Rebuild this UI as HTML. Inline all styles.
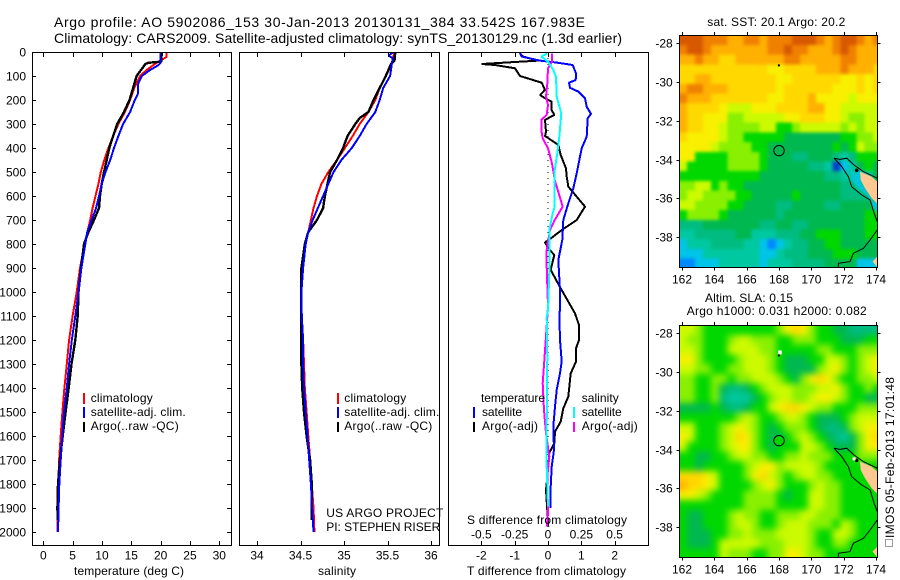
<!DOCTYPE html>
<html>
<head>
<meta charset="utf-8">
<style>
html,body{margin:0;padding:0;background:#fff;}
svg{display:block;}
text{font-family:"Liberation Sans",sans-serif;font-size:12px;fill:#000;}
.title{font-size:14px;}
</style>
</head>
<body>
<svg id="chart" width="900" height="580" viewBox="0 0 900 580" xmlns="http://www.w3.org/2000/svg">
<rect x="0" y="0" width="900" height="580" fill="#fff"/>
<defs>
<clipPath id="clip-t"><rect x="33" y="53" width="198" height="492"/></clipPath>
<clipPath id="clip-s"><rect x="240" y="53" width="199" height="492"/></clipPath>
<clipPath id="clip-d"><rect x="449" y="53" width="199" height="492"/></clipPath>
<clipPath id="clip-m1"><rect x="679.5" y="35" width="198" height="232.5"/></clipPath>
<clipPath id="clip-m2"><rect x="679.5" y="325" width="198" height="232.5"/></clipPath>
<filter id="soft-sst" filterUnits="userSpaceOnUse" x="640" y="0" width="260" height="300" color-interpolation-filters="sRGB"><feGaussianBlur stdDeviation="1.5"/></filter>
<filter id="soft-sla" filterUnits="userSpaceOnUse" x="640" y="290" width="260" height="290" color-interpolation-filters="sRGB"><feGaussianBlur stdDeviation="3.5"/></filter>
</defs>

<text class="title" x="54" y="27" textLength="531">Argo profile: AO 5902086_153 30-Jan-2013 20130131_384 33.542S 167.983E</text>
<text class="title" x="54" y="43" textLength="568">Climatology: CARS2009. Satellite-adjusted climatology: synTS_20130129.nc (1.3d earlier)</text>

<g id="map1cells" clip-path="url(#clip-m1)"></g>
<g id="map2cells" clip-path="url(#clip-m2)"></g>
<g id="series-t" clip-path="url(#clip-t)"></g>
<g id="series-s" clip-path="url(#clip-s)"></g>
<g id="series-d" clip-path="url(#clip-d)"></g>
<g id="axes"></g>

<rect x="32.5" y="52.5" width="199" height="493" fill="none" stroke="#000"/>
<rect x="239.5" y="52.5" width="200" height="493" fill="none" stroke="#000"/>
<rect x="448.5" y="52.5" width="200" height="493" fill="none" stroke="#000"/>
<rect x="679.5" y="35.5" width="198" height="232" fill="none" stroke="#000"/>
<rect x="679.5" y="325.5" width="198" height="232" fill="none" stroke="#000"/>

<text x="74" y="575" textLength="110">temperature (deg C)</text>
<text x="318" y="575" textLength="38">salinity</text>
<text x="467" y="575" textLength="159">T difference from climatology</text>
<text x="467" y="524" textLength="160">S difference from climatology</text>

<rect x="83" y="393" width="2" height="11" fill="#f00"/>
<rect x="83" y="407" width="2" height="11" fill="#00f"/>
<rect x="83" y="422" width="2" height="10" fill="#000"/>
<text x="90.7" y="402" textLength="62">climatology</text>
<text x="90.7" y="416" textLength="95">satellite-adj. clim.</text>
<text x="90.7" y="430" textLength="88">Argo(..raw -QC)</text>

<rect x="337" y="393" width="2" height="11" fill="#f00"/>
<rect x="337" y="407" width="2" height="11" fill="#00f"/>
<rect x="337" y="422" width="2" height="10" fill="#000"/>
<text x="344.3" y="402" textLength="62">climatology</text>
<text x="344.3" y="416" textLength="95">satellite-adj. clim.</text>
<text x="344.3" y="430" textLength="88">Argo(..raw -QC)</text>
<text x="326.3" y="517" textLength="117">US ARGO PROJECT</text>
<text x="326.3" y="531" textLength="114">PI: STEPHEN RISER</text>

<text x="481" y="402" textLength="64">temperature</text>
<text x="482" y="416" textLength="40">satellite</text>
<text x="482" y="430" textLength="56">Argo(-adj)</text>
<rect x="473" y="407" width="2" height="11" fill="#00f"/>
<rect x="473" y="422" width="2" height="10" fill="#000"/>
<text x="581.7" y="402" textLength="37">salinity</text>
<text x="581.7" y="416" textLength="40">satellite</text>
<text x="581.7" y="430" textLength="56">Argo(-adj)</text>
<rect x="573" y="407" width="2" height="11" fill="#0ff"/>
<rect x="573" y="422" width="2" height="10" fill="#f0f"/>

<text x="707.3" y="26" textLength="138">sat. SST: 20.1  Argo: 20.2</text>
<text x="705" y="302" textLength="88">Altim. SLA: 0.15</text>
<text x="686.7" y="315" textLength="180">Argo h1000: 0.031 h2000: 0.082</text>

<rect x="885.5" y="539.5" width="7" height="7" fill="none" stroke="#333" stroke-dasharray="1 1"/>
<text transform="translate(894,538) rotate(-90)" x="0" y="0" textLength="161">IMOS 05-Feb-2013 17:01:48</text>
</svg>

<script>
/* ---------- profile data (depth in m, values in data units) ---------- */
const depthTicks = [0,100,200,300,400,500,600,700,800,900,1000,1100,1200,1300,1400,1500,1600,1700,1800,1900,2000];
const tempTicks = [0,5,10,15,20,25,30];
const salTicks = [34,34.5,35,35.5,36];
const tDiffTicks = [-2,-1,0,1,2];
const sDiffTicks = [-0.5,-0.25,0,0.25,0.5];
const lonTicks = [162,164,166,168,170,172,174];
const latTicks = [-28,-30,-32,-34,-36,-38];

const tempClimDepths = [0,20,30,50,75,100,150,200,250,300,350,400,450,500,550,600,650,700,750,800,900,1000,1100,1200,1300,1400,1500,1600,1700,1800,1900,2000];
const tempClim = [21,21,20.4,19,17.6,16.5,15.5,14.8,13.9,12.8,11.9,11.1,10.4,9.8,9.4,8.9,8.4,8,7.5,7.05,6.26,5.7,5,4.4,4,3.6,3.25,2.96,2.7,2.56,2.45,2.4];
const tempSatDepths = [0,45,55,75,100,130,175,200,250,300,350,400,450,500,550,600,650,700,750,800,900,1000,1100,1200,1300,1400,1500,1600,1700,1800,1900,1950,2000];
const tempSat = [20,20,19.6,18.2,16.8,16.2,16.1,15.6,14.8,13.6,12.8,12.05,11.4,10.6,9.95,9.5,9,8.25,7.5,7.16,6.5,6,5.46,4.85,4.4,4,3.53,3.25,2.96,2.73,2.6,2.55,2.5];
const tempArgoDepths = [0,40,45,50,100,150,200,250,300,350,400,450,500,550,600,650,700,750,800,900,1000,1100,1200,1300,1400,1500,1600,1700,1800,1900,1950];
const tempArgo = [20.2,20.1,17.9,17.4,15.9,15.3,14.7,13.75,12.6,11.9,11.25,10.8,10.35,9.95,9.66,9.5,8.64,7.7,6.94,6.43,6,5.86,5.46,4.8,4.33,3.8,3.3,2.85,2.5,2.4,2.45];

const salClimDepths = [0,50,100,150,200,250,300,350,400,450,500,550,600,650,700,750,800,900,1000,1100,1200,1300,1400,1500,1600,1700,1800,1900,2000];
const salClim = [35.58,35.55,35.48,35.41,35.36,35.28,35.18,35.1,35.01,34.92,34.82,34.74,34.69,34.65,34.62,34.59,34.56,34.53,34.51,34.515,34.53,34.54,34.55,34.57,34.59,34.61,34.63,34.65,34.66];
const salSatDepths = [0,15,25,50,100,150,200,250,300,350,400,450,500,550,600,650,700,750,800,900,1000,1100,1200,1300,1400,1500,1600,1700,1800,1900,2000];
const salSat = [35.57,35.51,35.56,35.55,35.53,35.45,35.41,35.36,35.26,35.18,35.09,34.97,34.88,34.82,34.76,34.7,34.64,34.59,34.56,34.53,34.51,34.515,34.53,34.53,34.54,34.56,34.58,34.6,34.62,34.635,34.65];
const salArgoDepths = [0,35,50,100,150,200,250,275,300,350,400,450,500,550,600,650,700,750,800,900,1000,1100,1300,1400,1500,1600,1700,1800,1900,1950];
const salArgo = [35.59,35.58,35.54,35.48,35.41,35.34,35.28,35.18,35.13,35.04,34.99,34.92,34.84,34.81,34.78,34.76,34.69,34.59,34.55,34.51,34.51,34.51,34.51,34.52,34.54,34.57,34.61,34.63,34.63,34.63];

const diffTDepths = [8,19,36,50,54,68,100,128,158,179,197,207,242,262,283,332,350,387,429,485,519,561,644,700,742,779,793,818,846,908,985,1033,1089,1138,1200,1235,1290,1339,1436,1485,1540,1582,1631,1670,1728,1825,1978];
const diffTArgo = [-0.84,-0.74,-0.29,-1.99,-1.59,-0.99,-0.84,-0.19,-0.09,-0.24,-0.04,0.11,0.11,0.19,-0.09,-0.06,-0.09,0.31,0.38,0.54,0.56,0.61,1.11,0.86,0.41,0.06,-0.09,0.01,0.19,0.08,0.38,0.58,0.81,0.93,0.93,0.84,0.84,0.68,0.61,0.46,0.38,0.21,0.19,0.04,0.01,-0.06,0.01];
const diffTSatDepths = [3,19,36,44,54,89,117,128,149,165,193,228,258,276,353,401,436,506,568,631,700,783,867,992,1075,1089,1200,1290,1339,1408,1478,1561,1658,1728,1811,1901];
const diffTSat = [-0.84,-0.79,-0.24,0.26,0.74,0.84,0.83,0.63,0.66,0.91,1.11,1.16,1.29,1.19,1.16,1.01,0.96,0.86,0.76,0.61,0.46,0.43,0.31,0.36,0.36,0.34,0.36,0.41,0.36,0.26,0.21,0.16,0.18,0.11,0.08,0.08];
const diffSArgoDepths = [6,40,68,131,186,221,262,283,325,360,401,464,533,589,644,700,742,825,894,1061,1228,1381,1492,1589,1686,1769,1922,1978];
const diffSArgo = [0.03,0.03,0,-0.005,-0.015,0,-0.01,-0.05,-0.05,-0.04,0,0.03,0.05,0.08,0.11,0.05,0.015,-0.01,-0.01,0,-0.02,-0.04,-0.03,-0.015,0.01,-0.005,0,-0.01];
const diffSSatDepths = [6,19,40,75,103,186,256,353,422,492,644,672,742,922,1075,1103,1269,1561,1728,1894];
const diffSSat = [-0.005,-0.05,0,0.04,0.06,0.065,0.1,0.085,0.07,0.05,0.05,0.035,0.01,0.01,0,-0.01,-0.005,-0.01,-0.01,0];

/* ---------- map grids: each letter is one colour level per 0.5-degree cell ---------- */
const sstLevels = [
"nnnmmmllmmlmmmnnnmlmnnmlm","mnnmlllllllmmnmmlllmnmlll","llmllkkllllllmmlllllmmlll","kkkkkkkkkkkjjkkkklllmlllk",
"kkllkkkkkkkkjjkkkkkkjjkjk","lmmlllkkkkkkjkkkkkkjjjkjk","mlllkkkkkkkjjkkkljjjjijjj","lkkkkjiiijjjkkkklljjiiiii",
"lkkjjjhhiiiiijjkkkjjihhii","lkkjjihhhhiigghiiiiihihii","kjjjjihhgggggfffffffgghhi","jjjjihhhhggffffffffgfgihh",
"jjgggghhhhgfffeefffedeggg","iggggghhhhgfffffeedacdfgf","ggggggggggffffffffeeddcdf","hhiighggffffffffffffeedef",
"hiihhhhggfffffgfffffeeeef","iihhhhggffffeeffffeeffffc","ghhhhgffffffeffffffffffgg","eeefffffffeeffeefffffffgg",
"ddeeeeeffdddeeeffgggfffgg","cdddeeeeddcbcdeeffggfffff","cccdddddddccdeeefffgggfff","bbcccdddddcdddeeeeffffccc"];
const slaLevels = [
"iihggggggggghjkjhggffeeee","ihhggghiihhhgghhhgggfffgg","iihgggiiiihhggggghhggghhh","jjhgggghiiihgfffggiihghij",
"iihhgghhiiihgffffhijhghij","hhgghhghhiiihgfhjkjhgghhi","hhgghfeefghiiihhhiijhgghg","hhgghedddfghiihhijjihggff",
"ffffgfeefggijkkjihhggghhh","ggggggghihgghiihgfffghiii","iiggghijihgfghhhgfeefhijj","jiggghikjhgffghihgfedfhjk",
"igggghijjhgfgggiihgfffhjj","ggffgghiihhgghhihhhggghhh","ggfggggghijjhiiiihggggggg","kkkjiggghjkihghiihhgggggg",
"lkkjigggghijhggghihhggggg","jjihgggghhhhgfggiihhggggg","gggggggghhhhggggiihhggggg","gffggghihhgghhhiihhhggggg",
"gffggghiihgghiiihhhgihggg","gfffgghhihhhiiiihggiihggg","gfffgiiiiihhhiiihgghhgggg","gggggihhhgghhjjihhggggggg"];
const levelKeys = "abcdefghijklmn";
const levelColors = ["#0040c8","#0088ff","#00c4e8","#00c8a0","#00bc80","#00b850","#00d800","#88f000","#ccfa00","#f8f000","#ffd800","#ffb000","#f08000","#d85800"];

/* ---------- coast geography (lon, lat) ---------- */
const coastLines = [
 [[171.4,-33.93],[171.88,-34.36],[172.29,-34.88],[172.49,-35.39],[173.11,-35.82],[173.63,-36.08],[173.88,-36.76],[174.08,-37.19]],
 [[171.4,-33.93],[171.77,-33.99],[172.19,-33.93],[172.64,-34.28],[173.22,-34.62],[174.08,-34.96]],
 [[174.08,-37.62],[173.63,-38.14],[173.22,-38.57],[172.6,-38.82],[172.39,-39.25],[171.67,-39.34],[171.67,-39.54]]];
const landAreas = [
 [[173.01,-34.62],[173.73,-34.88],[174.08,-35.14],[174.08,-36.28],[173.73,-35.99],[173.32,-35.48],[173.05,-35.05]],
 [[174.08,-38.99],[173.79,-39.25],[174.08,-39.54]]];
const shelfArea = [[172.39,-34.45],[173.22,-35.39],[174.04,-36.42],[174.08,-36.76],[173.53,-35.9],[172.6,-35.2]];
const profileLon = 168;
const profileLat = -33.54;

/* ---------- axis functions ---------- */
const NS = "http://www.w3.org/2000/svg";
function yDepth(d){return 52+0.24*d;}
function xTemp(v){return 43.3+5.867*v;}
function xSal(v){return 257+87*(v-34);}
function xDiffT(v){return 548+33.33*v;}
function xDiffS(v){return 548+133.3*v;}
function mapX(lon){return 682+16.17*(lon-162);}
function mapY(lat,top){return top+8+19.43*(-28-lat);}

function mk(tag,attrs,parent){
  const el=document.createElementNS(NS,tag);
  for(const k in attrs){el.setAttribute(k,attrs[k]);}
  parent.appendChild(el);
  return el;
}
const axes=document.getElementById("axes");

function drawProfile(parentId,name,depths,values,xFn,color,width){
  const pts=depths.map(function(d,i){return xFn(values[i]).toFixed(1)+","+yDepth(d).toFixed(1);}).join(" ");
  const el=mk("polyline",{points:pts,fill:"none",stroke:color,"stroke-width":width,"stroke-linejoin":"bevel","shape-rendering":"crispEdges"},document.getElementById(parentId));
  
  
}
drawProfile("series-t","temperature-climatology-line",tempClimDepths,tempClim,xTemp,"#f00",2);
drawProfile("series-t","temperature-argo-line",tempArgoDepths,tempArgo,xTemp,"#000",2.4);
drawProfile("series-t","temperature-satellite-line",tempSatDepths,tempSat,xTemp,"#00f",2);
drawProfile("series-s","salinity-climatology-line",salClimDepths,salClim,xSal,"#f00",2);
drawProfile("series-s","salinity-argo-line",salArgoDepths,salArgo,xSal,"#000",2.4);
drawProfile("series-s","salinity-satellite-line",salSatDepths,salSat,xSal,"#00f",2);

const zeroLine=mk("line",{x1:xDiffT(0),x2:xDiffT(0),y1:yDepth(0),y2:yDepth(2000),stroke:"#000","stroke-width":1,"stroke-dasharray":"1 5","shape-rendering":"crispEdges"},document.getElementById("series-d"));


drawProfile("series-d","t-diff-argo-line",diffTDepths,diffTArgo,xDiffT,"#000",2);
drawProfile("series-d","t-diff-satellite-line",diffTSatDepths,diffTSat,xDiffT,"#00f",2);
drawProfile("series-d","s-diff-argo-line",diffSArgoDepths,diffSArgo,xDiffS,"#f0f",2);
drawProfile("series-d","s-diff-satellite-line",diffSSatDepths,diffSSat,xDiffS,"#0ff",2);

function tickLine(x1,y1,x2,y2,name){
  const el=mk("line",{x1:x1,y1:y1,x2:x2,y2:y2,stroke:"#000","stroke-width":1,"shape-rendering":"crispEdges"},axes);
  
  
}
function label(x,y,txt,anchor,name){
  const el=mk("text",{x:x,y:y,"text-anchor":anchor},axes);
  el.textContent=txt;
  
  
}
depthTicks.forEach(function(d){
  const y=Math.round(yDepth(d))+0.5;
  tickLine(33,y,36,y,"depth-tick-left");
  tickLine(231,y,227,y,"depth-tick-right");
  label(26,y+4,String(d),"end","depth-tick-label");
});
function xTicks(ticks,fn,name,fmt,y){
  ticks.forEach(function(v){
    const x=Math.round(fn(v))+0.5;
    tickLine(x,53,x,57,name+"-tick-top");
    tickLine(x,545,x,541,name+"-tick-bottom");
    if(y){label(fn(v),y,fmt(v),"middle",name+"-tick-label");}
  });
}
xTicks(tempTicks,xTemp,"temperature",String,559.5);
xTicks(salTicks,xSal,"salinity",String,559.5);
xTicks(tDiffTicks,xDiffT,"t-difference",String,559.5);
sDiffTicks.forEach(function(v){label(xDiffS(v),538.7,String(v),"middle","s-difference-tick-label");});

function drawMap(levels,top,groupId,prefix,filled){
  const g=document.getElementById(groupId);
  const cellGroup=mk("g",{filter:filled?"url(#soft-sla)":"url(#soft-sst)"},g);
  
  
  const lastRow=levels.length-1;
  levels.forEach(function(row,r){
    for(let c=0;c<row.length;c++){
      const lonEdge=161.8+0.5*c, latEdge=-27.6-0.5*r;
      let cx=mapX(lonEdge), cy=mapY(latEdge,top), cw=8.6, ch=10.2;
      /* edge cells overhang the clipped frame so the soft filter does not fade to white */
      if(c===0){cx-=14;cw+=14;}
      if(c===row.length-1){cw+=14;}
      if(r===0){cy-=14;ch+=14;}
      if(r===lastRow){ch+=14;}
      const cell=mk("rect",{x:cx.toFixed(2),y:cy.toFixed(2),width:cw,height:ch,fill:levelColors[levelKeys.indexOf(row[c])],"shape-rendering":"crispEdges"},cellGroup);
      
      
    }
  });
  const toPts=function(a){return a.map(function(p){return mapX(p[0]).toFixed(1)+","+mapY(p[1],top).toFixed(1);}).join(" ");};
  if(prefix==="sst"){
    const shelf=mk("polygon",{points:toPts(shelfArea),fill:"#00c4d8"},g);
    
    
  }
  landAreas.forEach(function(a){
    const land=mk("polygon",{points:toPts(a),fill:"#ffc890"},g);
    
    
  });
  coastLines.forEach(function(a){
    const line=mk("polyline",{points:toPts(a),fill:"none",stroke:"#000","stroke-width":1},g);
    
    
  });
  const harbour=mk("circle",{cx:mapX(172.8),cy:mapY(-34.55,top),r:1.8,fill:"#000"},g);
  
  
  if(filled){
    const whiteSpot=mk("rect",{x:mapX(172.55),y:mapY(-34.4,top),width:3,height:3,fill:"#fff"},g);
    
    
    const speckWhite=mk("rect",{x:mapX(167.95),y:mapY(-28.9,top),width:3.5,height:4,fill:"#fff"},g);
    
    
  }
  const speck=mk("rect",{x:mapX(167.93),y:mapY(-29.1,top),width:2,height:2,fill:"#000"},g);
  
  
  const ring=mk("circle",{cx:mapX(profileLon),cy:mapY(profileLat,top),r:5.2,fill:filled?"#00d800":"none",stroke:"#000","stroke-width":1},g);
  
  

  const bottom=top+232.5;
  lonTicks.forEach(function(lon){
    const x=Math.round(mapX(lon))+0.5;
    tickLine(x,top,x,top-3,prefix+"-lon-tick-top");
    tickLine(x,bottom,x,bottom+3,prefix+"-lon-tick-bottom");
    label(mapX(lon),bottom+16,String(lon),"middle",prefix+"-lon-label");
  });
  latTicks.forEach(function(lat){
    const y=Math.round(mapY(lat,top))+0.5;
    tickLine(679,y,676.5,y,prefix+"-lat-tick-left");
    tickLine(878,y,880.5,y,prefix+"-lat-tick-right");
    label(672.7,y+4,String(lat),"end",prefix+"-lat-label");
  });
}
drawMap(sstLevels,35,"map1cells","sst",false);
drawMap(slaLevels,325,"map2cells","sla",true);
</script>
</body>
</html>
